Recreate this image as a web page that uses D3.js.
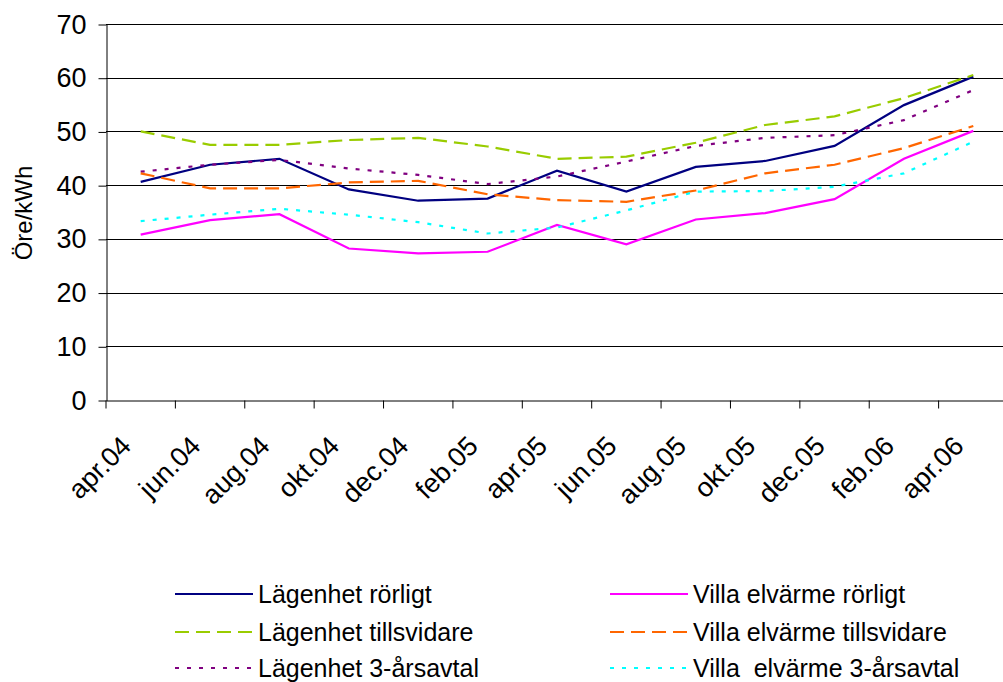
<!DOCTYPE html>
<html>
<head>
<meta charset="utf-8">
<script src="https://cdn.jsdelivr.net/npm/d3@7"></script>
<style>
  html, body { margin: 0; padding: 0; background: #fff; }
  svg { display: block; font-family: Arial, "Liberation Sans", sans-serif; }
  text { white-space: pre; }
</style>
</head>
<body>
<svg id="chart" width="1003" height="682"></svg>
<script>
// Months on the category axis
const months = ["apr.04", "jun.04", "aug.04", "okt.04", "dec.04", "feb.05", "apr.05",
                "jun.05", "aug.05", "okt.05", "dec.05", "feb.06", "apr.06"];

// Price series, öre/kWh
const lagenhetRorligt     = [40.6, 43.8, 44.9, 39.2, 37.1, 37.5, 42.7, 38.8, 43.4, 44.5, 47.3, 54.9, 60.2];
const lagenhetTillsvidare = [50.0, 47.5, 47.5, 48.4, 48.8, 47.2, 44.9, 45.3, 47.9, 51.2, 52.8, 56.2, 60.5];
const lagenhet3ar         = [42.5, 43.8, 44.7, 43.1, 41.9, 40.2, 41.6, 44.4, 47.3, 48.8, 49.3, 52.1, 57.7];
const villaRorligt        = [30.8, 33.5, 34.6, 28.2, 27.3, 27.6, 32.6, 29.0, 33.6, 34.8, 37.4, 44.9, 50.1];
const villaTillsvidare    = [42.2, 39.4, 39.4, 40.5, 40.8, 38.3, 37.2, 36.9, 39.0, 42.2, 43.8, 46.9, 51.0];
const villa3ar            = [33.3, 34.5, 35.6, 34.5, 33.1, 31.0, 32.1, 35.3, 38.8, 38.9, 39.7, 42.2, 48.1];

const yTicks = [0, 10, 20, 30, 40, 50, 60, 70];

const series = [
  { name: "Lägenhet rörligt",          values: lagenhetRorligt,     color: "#000080", dash: null,  col: 0, row: 0 },
  { name: "Lägenhet tillsvidare",      values: lagenhetTillsvidare, color: "#99CC00", dash: "14,7", col: 0, row: 1 },
  { name: "Lägenhet 3-årsavtal",       values: lagenhet3ar,         color: "#800080", dash: "4,8", col: 0, row: 2 },
  { name: "Villa elvärme rörligt",     values: villaRorligt,        color: "#FF00FF", dash: null,  col: 1, row: 0 },
  { name: "Villa elvärme tillsvidare", values: villaTillsvidare,    color: "#FF6600", dash: "14,7", col: 1, row: 1 },
  { name: "Villa  elvärme 3-årsavtal", values: villa3ar,            color: "#00FFFF", dash: "4,8", col: 1, row: 2 }
];

const svg = d3.select("#chart");
const plot = { left: 106, right: 1008, top: 24, bottom: 400 };

const x = d3.scaleBand().domain(months).range([plot.left, plot.right]).padding(0);
const y = d3.scaleLinear().domain([0, 70]).range([plot.bottom, plot.top]);
const cx = m => x(m) + x.bandwidth() / 2;

// Horizontal gridlines
svg.append("g")
  .selectAll("line")
  .data(yTicks.filter(t => t > 0))
  .join("line")
  .attr("x1", plot.left).attr("x2", plot.right)
  .attr("y1", d => Math.round(y(d)) + 0.5).attr("y2", d => Math.round(y(d)) + 0.5)
  .attr("stroke", "#000").attr("stroke-width", 1);

// Y axis
const yAxis = svg.append("g")
  .attr("transform", `translate(${plot.left + 0.5},0.5)`)
  .call(d3.axisLeft(y).tickValues(yTicks).tickSizeInner(8).tickSizeOuter(0).tickPadding(12));
yAxis.select(".domain").attr("stroke", "#000");
yAxis.selectAll(".tick line").attr("stroke", "#000");
yAxis.selectAll("text").attr("font-size", 27).attr("fill", "#000")
  .attr("font-family", "Arial, 'Liberation Sans', sans-serif");

// X axis: ticks between categories, labels rotated
const xAxis = svg.append("g")
  .attr("transform", `translate(0,${Math.round(plot.bottom) + 0.5})`)
  .call(d3.axisBottom(x).tickSizeInner(8).tickSizeOuter(0));
xAxis.select(".domain").attr("stroke", "#000");
xAxis.selectAll(".tick line")
  .attr("x1", -x.bandwidth() / 2).attr("x2", -x.bandwidth() / 2)
  .attr("stroke", "#000");
xAxis.selectAll("text")
  .attr("font-size", 27).attr("fill", "#000")
  .attr("font-family", "Arial, 'Liberation Sans', sans-serif")
  .attr("y", 0).attr("dy", 0)
  .attr("text-anchor", "end")
  .attr("transform", "translate(-8,47) rotate(-45)");

// Y axis title
svg.append("text")
  .attr("transform", "translate(32,213) rotate(-90)")
  .attr("text-anchor", "middle")
  .attr("font-size", 24)
  .attr("fill", "#000")
  .text("Öre/kWh");

// Series lines
const line = d3.line().x((d, i) => cx(months[i])).y(d => y(d));
svg.append("g")
  .selectAll("path")
  .data(series)
  .join("path")
  .attr("d", d => line(d.values))
  .attr("fill", "none")
  .attr("stroke", d => d.color)
  .attr("stroke-width", 2.2)
  .attr("stroke-dasharray", d => d.dash);

// Legend
const legendCols = [175, 610];
const legendRows = [594, 632, 668];
const lg = svg.append("g")
  .selectAll("g")
  .data(series)
  .join("g")
  .attr("transform", d => `translate(${legendCols[d.col]},${legendRows[d.row]})`);
lg.append("line")
  .attr("x1", 0).attr("x2", 78).attr("y1", 0).attr("y2", 0)
  .attr("stroke", d => d.color).attr("stroke-width", 2.2)
  .attr("stroke-dasharray", d => d.dash);
lg.append("text")
  .attr("x", 83).attr("dy", "0.34em")
  .attr("font-size", 25).attr("fill", "#000")
  .text(d => d.name);
</script>
</body>
</html>
